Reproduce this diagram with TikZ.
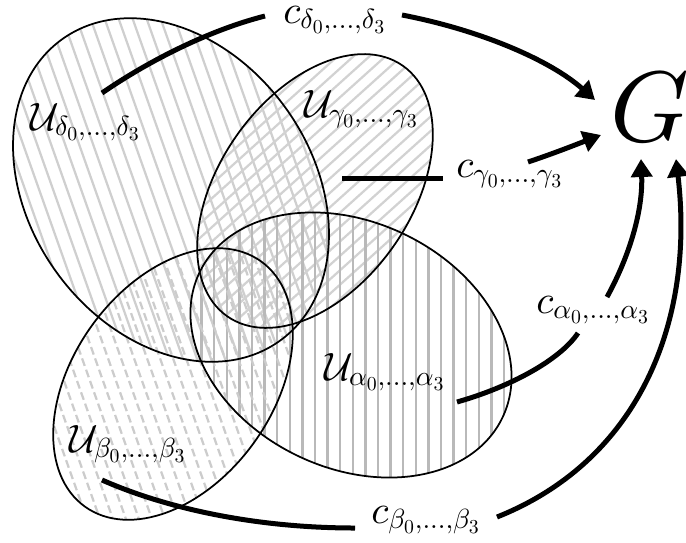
\documentclass[tikz,border=0pt]{standalone}
\DeclareFontShape{OML}{cmm}{m}{it}{<->cmmi10}{}
\DeclareFontShape{OT1}{cmr}{m}{n}{<->cmr10}{}
\DeclareFontShape{OMS}{cmsy}{m}{n}{<->cmsy10}{}
\usetikzlibrary{arrows.meta}
\begin{document}
\begin{tikzpicture}[x=0.02cm,y=-0.02cm,
  outline/.style={line width=0.035cm, black},
  hatch/.style={line width=0.045cm},
  lab/.style={font=\fontsize{22.5}{26}\selectfont, inner sep=0pt, anchor=base west},
  conn/.style={line width=0.1cm},
  arr/.style={conn, -{Triangle[length=0.36cm,width=0.42cm]}}]
\useasboundingbox (0,0) rectangle (686,542);
% ---- hatching
\begin{scope}
  \clip[rotate around={-54:(171,190)}] (171,190) ellipse [x radius=3.72cm, y radius=2.82cm];
  \foreach \i in {-20,...,30} \draw[hatch,gray!38] ({\i*14},0) -- ({\i*14+0.354*560},560);
\end{scope}
\begin{scope}
  \clip[rotate around={55:(315,191)}] (315,191) ellipse [x radius=3.06cm, y radius=1.92cm];
  \foreach \i in {7,...,55} \draw[hatch,gray!35] ({\i*16},0) -- ({\i*16-1.11*560},560);
\end{scope}
\begin{scope}
  \clip[rotate around={-25.6:(351,345)}] (351,345) ellipse [x radius=3.36cm, y radius=2.46cm];
  \foreach \i in {14,...,42} \draw[hatch,gray!55] ({\i*12.6},190) -- ({\i*12.6},500);
\end{scope}
\begin{scope}
  \clip[rotate around={54.3:(173,384)}] (173,384) ellipse [x radius=3.02cm, y radius=2.00cm];
  \foreach \i in {-14,...,26} \draw[hatch,gray!40,dash pattern=on 0.16cm off 0.08cm] ({\i*13},200) -- ({\i*13+0.354*360},560);
\end{scope}
% ---- outlines
\draw[outline, rotate around={-54:(171,190)}] (171,190) ellipse [x radius=3.72cm, y radius=2.82cm];
\draw[outline, rotate around={55:(315,191)}] (315,191) ellipse [x radius=3.06cm, y radius=1.92cm];
\draw[outline, rotate around={-25.6:(351,345)}] (351,345) ellipse [x radius=3.36cm, y radius=2.46cm];
\draw[outline, rotate around={54.3:(173,384)}] (173,384) ellipse [x radius=3.02cm, y radius=2.00cm];
% ---- labels
\node[lab] (Ud) at (30,130) {$\mathcal{U}_{\delta_0,\ldots,\delta_3}$};
\node[lab] (Ug) at (304,117) {$\mathcal{U}_{\gamma_0,\ldots,\gamma_3}$};
\node[lab] (Ua) at (324,380) {$\mathcal{U}_{\alpha_0,\ldots,\alpha_3}$};
\node[lab] (Ub) at (69,452) {$\mathcal{U}_{\beta_0,\ldots,\beta_3}$};
\node[lab] (cd) at (283,23) {$c_{\delta_0,\ldots,\delta_3}$};
\node[lab] (cg) at (456,177) {$c_{\gamma_0,\ldots,\gamma_3}$};
\node[lab] (ca) at (536,313) {$c_{\alpha_0,\ldots,\alpha_3}$};
\node[lab] (cb) at (371,523) {$c_{\beta_0,\ldots,\beta_3}$};
\node[font=\fontsize{57}{60}\selectfont, inner sep=0pt] (G) at (650,107) {$G$};
% ---- connector end points
\coordinate (ds) at (102,93);
\coordinate (dm1) at (265,16);
\coordinate (dm2) at (402,15);
\coordinate (gs) at (342,178);
\coordinate (gm1) at (443,178);
\coordinate (gm2) at (528,162);
\coordinate (as) at (457,402);
\coordinate (am1) at (578,333);
\coordinate (am2) at (607,297);
\coordinate (bs) at (102,480);
\coordinate (bm1) at (355,528);
\coordinate (bm2) at (497,517);
\coordinate (dt) at (595,100);
\coordinate (gt) at (601,135);
\coordinate (at) at (641,159);
\coordinate (bt) at (676,159);
% ---- connectors
\draw[conn] (ds) .. controls (150,60) and (210,30) .. (dm1);
\draw[arr] (dm2) .. controls (480,30) and (550,60) .. (dt);
\draw[conn] (gs) -- (gm1);
\draw[arr] (gm2) .. controls (555,153) and (580,143) .. (gt);
\draw[conn] (as) .. controls (510,387) and (560,360) .. (am1);
\draw[arr] (am2) .. controls (630,255) and (643,210) .. (at);
\draw[conn] (bs) .. controls (170,510) and (260,528) .. (bm1);
\draw[arr] (bm2) .. controls (640,460) and (695,320) .. (bt);
\end{tikzpicture}
\end{document}
